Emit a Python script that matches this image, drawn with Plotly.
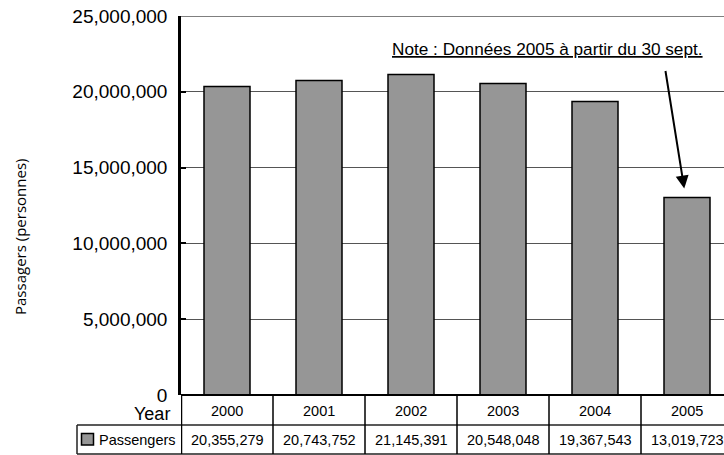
import plotly.graph_objects as go

years = ["2000", "2001", "2002", "2003", "2004", "2005"]
passengers = [20355279, 20743752, 21145391, 20548048, 19367543, 13019723]
y_ticks = [0, 5000000, 10000000, 15000000, 20000000, 25000000]
series_name = "Passengers"
y_title = "Passagers (personnes)"
note_text = "Note : Données 2005 à partir du 30 sept."

W, H = 724, 455
L, T, B = 181, 16, 60
PW = W - L
PH = H - T - B
ARIAL = "Liberation Sans, Arial, sans-serif"

def px_x(px):
    return (px - L) / PW

def px_y(py):
    return (T + PH - py) / PH

xs = list(range(len(years)))

fig = go.Figure()
fig.add_trace(go.Bar(
    x=xs, y=passengers, width=0.5,
    marker=dict(color="#969696", line=dict(color="black", width=1.5)),
    showlegend=False, hoverinfo="skip",
))

col_w = 92
x_max = -0.5 + PW / col_w

fig.update_layout(
    width=W, height=H,
    margin=dict(l=L, r=0, t=T, b=B),
    paper_bgcolor="white", plot_bgcolor="white",
    xaxis=dict(range=[-0.5, x_max], showticklabels=False, ticks="",
               showgrid=False, zeroline=False, showline=False),
    yaxis=dict(range=[0, 25000000], tickvals=y_ticks, tickformat=",d",
               ticks="inside", ticklen=5, tickwidth=1.5, tickcolor="black",
               showline=True, linecolor="black", linewidth=2.5,
               showgrid=True, gridcolor="#555555", gridwidth=1,
               zeroline=False, ticklabelstandoff=7,
               tickfont=dict(family=ARIAL, size=19, color="black")),
)

shapes = []
line = dict(color="#222", width=1.5)
y_top = px_y(395)
y_mid = px_y(425)
y_bot = px_y(454)
x_left = px_x(77)
# top gridline at the max tick
shapes.append(dict(type="line", xref="paper", yref="y", x0=0, x1=1, y0=y_ticks[-1], y1=y_ticks[-1],
                   line=dict(color="#555555", width=1.5)))
# horizontal table lines
shapes.append(dict(type="line", xref="paper", yref="paper", x0=0, x1=1, y0=y_top, y1=y_top,
                   line=dict(color="black", width=2)))
shapes.append(dict(type="line", xref="paper", yref="paper", x0=x_left, x1=1, y0=y_mid, y1=y_mid, line=line))
shapes.append(dict(type="line", xref="paper", yref="paper", x0=x_left, x1=1, y0=y_bot, y1=y_bot, line=line))
shapes.append(dict(type="line", xref="paper", yref="paper", x0=x_left, x1=x_left, y0=y_mid, y1=y_bot, line=line))
for i in range(len(years) + 1):
    xb = i - 0.5
    shapes.append(dict(type="line", xref="x", yref="paper", x0=xb, x1=xb, y0=y_top, y1=y_bot,
                       line=dict(color="black", width=2.5 if i == 0 else 1.5)))
# legend key
shapes.append(dict(type="rect", xref="paper", yref="paper",
                   x0=px_x(81.5), x1=px_x(93.5), y0=px_y(445), y1=px_y(433.5),
                   fillcolor="#969696", line=dict(color="black", width=1.5)))
fig.update_layout(shapes=shapes)

tfont = dict(family=ARIAL, size=14.5, color="black")
ann = []
for i, (yr, v) in enumerate(zip(years, passengers)):
    ann.append(dict(x=i, y=px_y(410.5), xref="x", yref="paper", text=yr, showarrow=False,
                    xanchor="center", yanchor="middle", font=tfont))
    ann.append(dict(x=i, y=px_y(440), xref="x", yref="paper", text=f"{v:,}", showarrow=False,
                    xanchor="center", yanchor="middle", font=tfont))
ann.append(dict(x=px_x(97), y=px_y(440), xref="paper", yref="paper", text=series_name,
                xanchor="left", yanchor="middle", showarrow=False, font=tfont))
ann.append(dict(x=px_x(172), y=px_y(413.5), xref="paper", yref="paper", text="Year",
                xanchor="right", yanchor="middle", showarrow=False,
                font=dict(family=ARIAL, size=18, color="black")))
ann.append(dict(x=px_x(20), y=px_y(237), xref="paper", yref="paper", text=y_title, textangle=-90,
                xanchor="center", yanchor="middle", showarrow=False,
                font=dict(family="Open Sans, sans-serif", size=15, color="black")))
ann.append(dict(x=px_x(390), y=px_y(49), xref="paper", yref="paper", text=f"<u>{note_text}</u>",
                xanchor="left", yanchor="middle", showarrow=False,
                font=dict(family=ARIAL, size=17.2, color="black")))
ann.append(dict(x=len(years) - 1 - 0.03, y=passengers[-1] + 600000, xref="x", yref="y", text="",
                showarrow=True, arrowhead=2, arrowsize=1.3, arrowwidth=2, arrowcolor="black",
                axref="pixel", ayref="pixel", ax=-19, ay=-119))
fig.update_layout(annotations=ann)

fig.write_html("out.html")
